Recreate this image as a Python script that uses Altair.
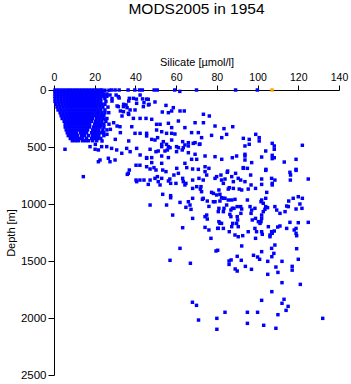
import altair as alt
import pandas as pd

# ---- dense near-surface cloud: depth rows and silicate values in each row ----
blob_depths = [0, 15, 35, 55, 75, 100, 125, 150, 175, 200,
               225, 250, 275, 300, 325, 350, 375, 400, 425, 445]
blob_rows = [
    [0.5, 2, 3.5, 5, 6.5, 8, 9.5, 11, 12.5, 14, 15.5, 17, 18.5, 20, 21.5, 23],
    [0.5, 2, 3.5, 5, 6.5, 8, 9.5, 11, 12.5, 14, 15.5, 17, 18.5, 20, 21.5, 23, 24],
    [0.5, 2, 3.5, 5, 6.5, 8, 9.5, 11, 12.5, 14, 15.5, 17, 18.5, 20, 21.5, 23, 24.5, 26],
    [0.5, 2, 3.5, 5, 6.5, 8, 9.5, 11, 12.5, 14, 15.5, 17, 18.5, 20, 21.5, 23, 24.5, 26],
    [0.5, 2, 3.5, 5, 6.5, 8, 9.5, 11, 12.5, 14, 15.5, 17, 18.5, 20, 21.5, 23, 25],
    [0.5, 2, 3.5, 5, 6.5, 8, 9.5, 11, 12.5, 14, 15.5, 17, 18.5, 20, 21.5, 23, 25.5],
    [1, 2.5, 4, 5.5, 7, 8.5, 10, 11.5, 13, 14.5, 16, 17.5, 19, 20.5, 22, 23.5, 25],
    [1.5, 3, 4.5, 6, 7.5, 9, 10.5, 12, 13.5, 15, 16.5, 18, 19.5, 21, 22.5, 24, 26.5],
    [2, 3.5, 5, 6.5, 8, 9.5, 11, 12.5, 14, 15.5, 17, 18.5, 20, 21.5, 23, 25],
    [3, 4.5, 6, 7.5, 9, 10.5, 12, 13.5, 15, 16.5, 18, 19.5, 21, 22, 23.5, 25],
    [3.5, 5, 6.5, 8, 9.5, 11, 12.5, 14, 15.5, 17, 18.5, 20, 21.5, 23, 24.5],
    [4, 5.5, 7, 8.5, 10, 11.5, 13, 14.5, 16, 17.5, 19, 21, 22.5, 24, 26],
    [5, 6.5, 8, 9.5, 11, 12.5, 14, 15.5, 17, 18.5, 20.5, 22, 23.5, 25.5],
    [5.5, 7, 8.5, 10, 11.5, 13, 14.5, 16, 17.5, 20, 21.5, 23, 24.5, 27],
    [5.5, 7, 8.5, 10, 11.5, 13, 14.5, 16, 17.5, 19.5, 21, 22.5, 24.5],
    [6, 7.5, 9, 10.5, 12, 13.5, 15, 16.5, 19, 20.5, 22, 24, 26],
    [6.5, 8, 9.5, 11, 13, 14.5, 16, 18.5, 20, 21.5, 23],
    [7, 8.5, 10, 11.5, 13.5, 15, 17, 19, 20.5, 22, 24.5],
    [8, 9.5, 11, 12.5, 14, 16, 18.5, 20, 21.5, 23],
    [9, 10.5, 12, 14, 15.5, 17, 19, 21],
]

# ---- scattered samples: (silicate, depth) ----
surface_pts = [(23.5, 2), (25, 2), (27, 2), (28.2, 0), (30, 0), (32, 0), (36.4, 0),
               (39.7, 0), (42, 0), (43.4, 0), (49.2, 0), (50.7, 0), (59.3, 0),
               (61.8, 12), (70, 0), (89.2, 0), (99.9, 0)]

shallow_pts = [
    (27.5, 44), (30.5, 44), (31.6, 58), (37, 73), (39, 73), (42.3, 44), (28.5, 75),
    (32, 70), (40.5, 80), (43.5, 78), (45.5, 80), (40.6, 117), (44.2, 111),
    (34.1, 146), (31.6, 146), (35.4, 131), (37.4, 175), (39.8, 175), (43.9, 146),
    (46.4, 131), (34.1, 190), (36.5, 205), (39, 249), (42.3, 249), (45.2, 249),
    (32.4, 322), (38.2, 322), (39.8, 380), (42.3, 380), (45.5, 380), (35.7, 512),
    (33.3, 555), (30.8, 526), (28.3, 512), (25.9, 497), (23.4, 497), (21.8, 526),
    (22.6, 614), (21.8, 629), (26.7, 599), (30, 614), (27.5, 629), (37.4, 541),
    (40.6, 512), (42.3, 570), (45.5, 599), (5.4, 520), (17.7, 497), (20.2, 520),
    (20.3, 477), (28.5, 97), (31, 140), (32.6, 184), (34.2, 126), (36.7, 97),
    (35.9, 155), (33.4, 228), (36.7, 214), (23.6, 447), (30.1, 433), (36.7, 447),
    (27.7, 345), (29.3, 287), (25.2, 257), (26.9, 199), (31, 316), (32.6, 374),
    (26, 389), (22.8, 316), (23.6, 228), (24.4, 374),
    (46.3, 82), (49.6, 105), (46.7, 126), (55, 135), (58.6, 155), (57.8, 184),
    (61.9, 184), (64, 184), (53.2, 193), (56.2, 199), (61.1, 272), (48, 257),
    (50.4, 301), (52.1, 301), (56.2, 292), (57.8, 330), (64.3, 330), (69.3, 287),
    (73.4, 287), (76.3, 228), (73.4, 213), (79.1, 316), (83.5, 339), (87.8, 322),
    (67.6, 374), (70.9, 374), (72.5, 418), (77.4, 398), (82.4, 418), (84.8, 389),
    (45.5, 403), (48, 433), (50.9, 418), (52.9, 477), (55.3, 477), (57, 506),
    (54.5, 535), (51.2, 535), (47.2, 520), (45.5, 593), (48, 593), (52.9, 579),
    (56.2, 593), (61.1, 506), (63.5, 506), (66, 491), (69.3, 462), (71.4, 477),
    (66, 550), (69.3, 564), (67.6, 608), (70.1, 608), (74.2, 579), (79.1, 585),
    (82.4, 608), (87.6, 594), (89.7, 579), (48, 637), (52.9, 643), (64.3, 643),
    (50.4, 351), (52.9, 366), (55.3, 380), (57.8, 380), (59.4, 386), (63.2, 453),
    (66, 462), (68.4, 468), (71.7, 474), (60.2, 497), (64.3, 482), (60.2, 541),
    (63, 526), (55.7, 526), (50.1, 541), (57.8, 439), (53.7, 453), (49.6, 439),
    (56.2, 497), (52.9, 497),
    (93, 424), (95.9, 433), (95.9, 476), (93.8, 491), (93.8, 564), (93.8, 579),
    (93.8, 614), (97.1, 637), (99.1, 389), (100.8, 418), (100.8, 447), (104, 535),
    (102, 588), (107.2, 468), (108.2, 491), (108.2, 520), (107.2, 573),
    (107.2, 602), (108.2, 594), (113.1, 632), (118.9, 608), (122, 485),
]

mid_pts = [
    (14.4, 760), (36, 740), (37, 702), (40.3, 790), (40.6, 804), (42.2, 790),
    (44.2, 790), (46.3, 828), (47.2, 790), (47.2, 693), (45.5, 673), (49.1, 681),
    (50.1, 702), (49.6, 775), (50.8, 760), (51.2, 804), (52.1, 833), (52.9, 775),
    (53.4, 702), (55, 716), (56.2, 798), (56.9, 781), (57.3, 819), (58.9, 746),
    (59.9, 819), (60.3, 687), (61.1, 731), (63.2, 775), (63.5, 804), (64.3, 833),
    (64.8, 819), (65.2, 681), (68.1, 693), (68.1, 790), (68.1, 863), (53.4, 915),
    (57.3, 927), (57.3, 945), (47.2, 1009), (55.3, 1009), (61.9, 986), (64.8, 1029),
    (66, 980), (66.8, 1009), (67.3, 1047), (68.1, 950), (58.3, 1097), (68.1, 1126),
    (63.2, 1208), (61.9, 1389), (42.2, 660), (40.3, 660), (36.5, 731),
    (70.9, 696), (74.2, 673), (76.1, 687), (74.2, 716), (75, 746), (71.2, 775),
    (73.3, 790), (70.1, 848), (72.2, 848), (71.9, 869), (72.5, 892), (73.3, 950),
    (72.9, 959), (75.3, 974), (76.1, 1021), (77.4, 898), (78.3, 907), (79.1, 775),
    (79.9, 760), (82, 746), (82.3, 790), (84, 781), (85.3, 711), (85.1, 722),
    (89.2, 731), (87.3, 760), (88.1, 804), (90.5, 775), (91.7, 790), (93, 687),
    (95, 687), (93.8, 804), (96.6, 746), (96.8, 833), (99, 863), (95.4, 869),
    (92.2, 877), (91, 869), (88.1, 863), (86.1, 857), (85.6, 869), (83.2, 819),
    (81, 877), (79.9, 921), (81.5, 915), (82.3, 945), (83.2, 950), (84, 950),
    (85.6, 965), (87.3, 965), (88.9, 959), (78.3, 980), (79.1, 980), (81.5, 974),
    (75, 1097), (74.2, 1111), (75.3, 1132), (74.2, 1205), (76.1, 1228),
    (77.1, 1301), (80.7, 1067), (81, 1038), (83.5, 1038), (83.2, 1067),
    (84.8, 1009), (86.9, 1053), (87.6, 1038), (86.4, 1091), (86.9, 1111),
    (88.4, 1038), (90, 1023), (91.7, 1023), (92.2, 1044), (95, 965), (96.3, 1023),
    (97.1, 1053), (98.7, 1038), (96.8, 1082), (97.4, 1140), (99, 1126),
    (100.4, 1155), (101.2, 1170), (98.7, 1214), (99.5, 1243), (102, 1243),
    (102.3, 1266), (105.3, 1199), (106.1, 1272), (106.9, 1243), (108.2, 1237),
    (107.2, 1257), (106.1, 1287), (91.8, 1082), (90, 1111), (90.2, 1140),
    (89.7, 1170), (90.5, 1199), (87.8, 1170), (87.3, 1199), (81, 1155),
    (82.3, 1170), (80.4, 1214), (83.2, 1214), (86.1, 1243), (88.9, 1272),
    (90.5, 1287), (92.7, 1278), (95.4, 1243), (99, 1301), (92.2, 1368),
    (102, 965), (101.7, 980), (102.8, 994), (104, 950), (103.6, 1047),
    (104.9, 1032), (108.5, 1023), (109.4, 1053), (113.5, 1067), (111, 1082),
    (102, 1097), (102, 1126), (101.7, 1155), (102.8, 1067), (104, 1023),
    (104.5, 898), (102, 828), (102, 781), (104, 705), (106.9, 775), (107.2, 819),
    (107.2, 833), (108.5, 790), (115.9, 722), (116.2, 746), (118.9, 705),
    (116.1, 790), (124.9, 781), (115.3, 974), (117.5, 950), (120, 936),
    (122, 950), (120.8, 1000), (118.9, 1044), (121.8, 1038), (114.3, 1018),
    (115.1, 1023), (124.9, 1161), (115.9, 1161), (114.3, 1214), (118, 1228),
    (118.9, 1257), (119.2, 1278), (120, 1164), (118.9, 1214), (111, 1193),
    (109.9, 1202), (108.5, 1360), (106.9, 1389), (119.2, 1392), (80.7, 1213),
    (81.5, 1169), (93, 681), (104.1, 696), (118.9, 696),
]

deep_pts = [
    (57, 1494), (67, 1520), (79.6, 1412), (80.4, 1406), (86, 1500), (86, 1530),
    (87, 1491), (90, 1459), (92, 1494), (89, 1570), (90, 1588), (94, 1547),
    (97, 1573), (98, 1450), (100, 1465), (101, 1485), (102, 1418), (105, 1503),
    (108, 1433), (107, 1462), (105, 1617), (109, 1553), (110, 1600), (112, 1503),
    (117, 1547), (117, 1580), (120, 1485), (121, 1705), (112, 1690), (107, 1769),
    (102, 1845), (113, 1836), (112, 1871), (115, 1898), (114, 1933), (68, 1862),
    (70, 1889), (84, 1950), (95, 1950), (100, 1950), (110, 1971), (80, 2003),
    (71, 2018), (95, 2047), (103, 2064), (109, 2090), (80, 2099), (132, 2003),
]

# the single flagged (orange) sample
flag_si = [107.1]
flag_depth = [0]

rows = []
for d, xs in zip(blob_depths, blob_rows):
    for s in xs:
        rows.append({"si": s, "depth": d, "flag": "ok"})
for group in (surface_pts, shallow_pts, mid_pts, deep_pts):
    for s, d in group:
        rows.append({"si": s, "depth": d, "flag": "ok"})
for s, d in zip(flag_si, flag_depth):
    rows.append({"si": s, "depth": d, "flag": "flag"})
df = pd.DataFrame(rows)

FONT = "Liberation Sans"

chart = alt.Chart(df).mark_square(size=12, opacity=1, strokeWidth=0, clip=False).encode(
    x=alt.X("si:Q",
            scale=alt.Scale(domain=[0, 140], nice=False, zero=False),
            axis=alt.Axis(orient="top", values=[0, 20, 40, 60, 80, 100, 120, 140],
                          format="d",
                          title="Silicate [µmol/l]", grid=False,
                          domainColor="black", tickColor="black", tickSize=5,
                          labelFont=FONT, labelFontSize=10.5, labelColor="black",
                          titleFont=FONT, titleFontSize=11, titleColor="black",
                          titleFontWeight="normal", labelPadding=3, titlePadding=5,
                          labelFlush=False, zindex=0)),
    y=alt.Y("depth:Q",
            scale=alt.Scale(domain=[0, 2500], reverse=True, nice=False, zero=False),
            axis=alt.Axis(values=[0, 500, 1000, 1500, 2000, 2500],
                          format="d",
                          title="Depth [m]", grid=False,
                          domainColor="black", tickColor="black", tickSize=6,
                          labelFont=FONT, labelFontSize=11.5, labelColor="black",
                          titleFont=FONT, titleFontSize=11, titleColor="black",
                          titleFontWeight="normal", labelPadding=2, titlePadding=4,
                          labelFlush=False, zindex=0)),
    color=alt.Color("flag:N",
                    scale=alt.Scale(domain=["ok", "flag"], range=["#0000FF", "#FFA500"]),
                    legend=None),
    order=alt.Order("flag:N", sort="descending"),
).properties(
    width=285,
    height=285,
    title=alt.TitleParams("MODS2005 in 1954", font=FONT, fontSize=15.5,
                          fontWeight="normal", color="black", anchor="middle",
                          offset=39),
    autosize=alt.AutoSizeParams(type="none"),
    padding={"left": 54, "top": 90, "right": 12, "bottom": 9},
    background="white",
).configure_view(stroke=None).configure_title(fontWeight="normal", font=FONT)

chart.save("out.html", embed_options={"renderer": "svg", "actions": False})
